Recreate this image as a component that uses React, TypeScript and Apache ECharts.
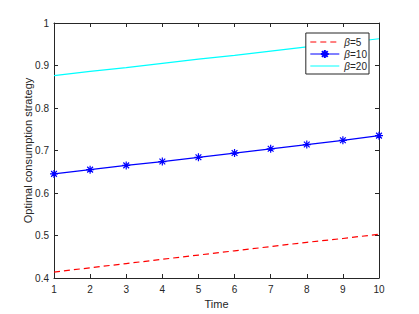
import React, { useEffect, useRef } from "react";
import * as echarts from "echarts";

const times = [1, 2, 3, 4, 5, 6, 7, 8, 9, 10];
const beta5 = [0.414, 0.424, 0.434, 0.444, 0.454, 0.464, 0.474, 0.484, 0.493, 0.503];
const beta10 = [0.645, 0.655, 0.665, 0.674, 0.684, 0.694, 0.704, 0.714, 0.724, 0.735];
const beta20 = [0.876, 0.886, 0.895, 0.905, 0.915, 0.924, 0.934, 0.944, 0.953, 0.963];
const seriesNames = ["β=5", "β=10", "β=20"];

const AX = "#262626";
const FONT = "Liberation Sans, Arial, Helvetica, sans-serif";
const STAR = "path://M0,-5L0,5M-5,0L5,0M-3.6,-3.6L3.6,3.6M-3.6,3.6L3.6,-3.6";

export default function App() {
  const ref = useRef<HTMLDivElement>(null);
  useEffect(() => {
    if (!ref.current) return;
    const chart = echarts.init(ref.current, undefined, { renderer: "svg" });
    const toPairs = (arr: number[]) => times.map((t, i) => [t, arr[i]]);
    const xBase = {
      type: "value" as const,
      min: 1,
      max: 10,
      interval: 1,
      splitLine: { show: false },
      axisLine: { show: true, onZero: false, lineStyle: { color: AX, width: 1 } },
      axisTick: { show: true, inside: true, length: 4, lineStyle: { color: AX } },
    };
    const yBase = {
      type: "value" as const,
      min: 0.4,
      max: 1,
      interval: 0.1,
      splitLine: { show: false },
      axisLine: { show: true, onZero: false, lineStyle: { color: AX, width: 1 } },
      axisTick: { show: true, inside: true, length: 4, lineStyle: { color: AX } },
    };
    chart.setOption({
      animation: false,
      backgroundColor: "#ffffff",
      grid: { left: 54, right: 40, top: 23, bottom: 34, containLabel: false },
      legend: {
        orient: "vertical",
        right: 50,
        top: 33,
        padding: [4, 2, 3, 4],
        itemGap: 2,
        itemWidth: 29,
        itemHeight: 10,
        backgroundColor: "#ffffff",
        borderColor: AX,
        borderWidth: 1,
        borderRadius: 0,
        lineStyle: { width: 1 },
        formatter: (name: string) => "{i|β}{n|" + name.slice(1) + "}",
        textStyle: {
          fontFamily: FONT,
          fontSize: 10,
          color: AX,
          rich: {
            i: { fontFamily: FONT, fontSize: 10, fontStyle: "italic", color: AX },
            n: { fontFamily: FONT, fontSize: 10, color: AX },
          },
        },
        data: [
          { name: seriesNames[0], itemStyle: { opacity: 0 } },
          { name: seriesNames[1] },
          { name: seriesNames[2], itemStyle: { opacity: 0 } },
        ],
      },
      xAxis: [
        {
          ...xBase,
          position: "bottom",
          name: "Time",
          nameLocation: "middle",
          nameGap: 20,
          nameMoveOverlap: false,
          nameTextStyle: { fontFamily: FONT, fontSize: 11, color: AX },
          axisLabel: { fontFamily: FONT, fontSize: 10, color: AX, margin: 6 },
        },
        { ...xBase, position: "top", axisLabel: { show: false } },
      ],
      yAxis: [
        {
          ...yBase,
          position: "left",
          name: "Optimal consumption strategy",
          nameLocation: "middle",
          nameGap: 21,
          nameMoveOverlap: false,
          nameTextStyle: { fontFamily: FONT, fontSize: 11, color: AX },
          axisLabel: {
            fontFamily: FONT,
            fontSize: 10,
            color: AX,
            margin: 5,
            formatter: (v: number) => (Math.abs(v - 1) < 1e-9 ? "1" : v.toFixed(1)),
          },
        },
        { ...yBase, position: "right", axisLabel: { show: false } },
      ],
      series: [
        {
          name: seriesNames[0],
          type: "line",
          data: toPairs(beta5),
          showSymbol: false,
          lineStyle: { color: "#ff0000", width: 1.2, type: [6, 4] },
          itemStyle: { color: "#ff0000" },
        },
        {
          name: seriesNames[1],
          type: "line",
          data: toPairs(beta10),
          symbol: STAR,
          symbolSize: 8,
          showSymbol: true,
          lineStyle: { color: "#0000ff", width: 1.2 },
          itemStyle: { color: "#0000ff", borderColor: "#0000ff", borderWidth: 1.2 },
        },
        {
          name: seriesNames[2],
          type: "line",
          data: toPairs(beta20),
          showSymbol: false,
          lineStyle: { color: "#00ffff", width: 1.2 },
          itemStyle: { color: "#00ffff" },
        },
      ],
    });
    return () => chart.dispose();
  }, []);
  return <div ref={ref} style={{ width: 419, height: 314, position: "absolute", left: 0, top: 0 }} />;
}
